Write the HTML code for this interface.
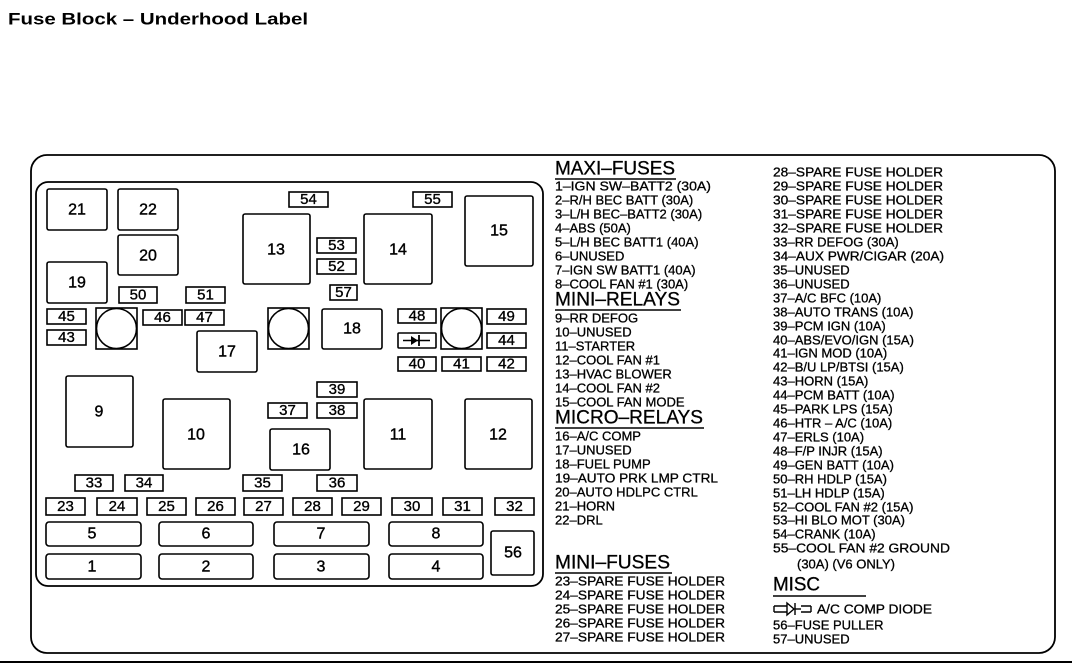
<!DOCTYPE html>
<html><head><meta charset="utf-8"><style>
html,body{margin:0;padding:0;background:#fff;}
svg{display:block;font-family:"Liberation Sans",Arial,sans-serif;}
.b{fill:#fff;stroke:#000;stroke-width:1.6;}
.n{font-size:16px;text-anchor:middle;dominant-baseline:central;stroke:#000;stroke-width:0.4;}
.s{font-size:15px;text-anchor:middle;dominant-baseline:central;stroke:#000;stroke-width:0.35;}
.l{font-size:13px;dominant-baseline:central;stroke:#000;stroke-width:0.3;}
.h{font-size:19px;dominant-baseline:central;stroke:#000;stroke-width:0.3;}
</style></head><body>
<svg width="1072" height="669" viewBox="0 0 1072 669" xmlns="http://www.w3.org/2000/svg">
<text x="8" y="19" font-size="17" font-weight="bold" dominant-baseline="central" textLength="300" lengthAdjust="spacingAndGlyphs">Fuse Block – Underhood Label</text>
<rect x="31" y="155" width="1024" height="498" rx="16" fill="none" stroke="#000" stroke-width="1.8"/>
<rect x="36" y="182" width="507" height="404" rx="12" fill="none" stroke="#000" stroke-width="1.8"/>
<line x1="0" y1="662" x2="1072" y2="662" stroke="#000" stroke-width="2"/>
<g>
<rect class="b" x="47" y="189" width="60" height="41" rx="2"/><text class="n" x="77" y="210">21</text>
<rect class="b" x="118" y="189" width="60" height="41" rx="2"/><text class="n" x="148" y="210">22</text>
<rect class="b" x="118" y="235" width="60" height="40" rx="2"/><text class="n" x="148" y="256">20</text>
<rect class="b" x="47" y="262" width="60" height="41" rx="2"/><text class="n" x="77" y="283">19</text>
<rect class="b" x="243" y="214" width="67" height="70" rx="2"/><text class="n" x="276" y="250">13</text>
<rect class="b" x="364" y="214" width="68" height="70" rx="2"/><text class="n" x="398" y="250">14</text>
<rect class="b" x="465" y="196" width="68" height="70" rx="2"/><text class="n" x="499" y="231">15</text>
<rect class="b" x="197" y="331" width="60" height="41" rx="2"/><text class="n" x="227" y="352">17</text>
<rect class="b" x="322" y="309" width="60" height="40" rx="2"/><text class="n" x="352" y="329">18</text>
<rect class="b" x="66" y="376" width="67" height="71" rx="2"/><text class="n" x="99" y="412">9</text>
<rect class="b" x="163" y="399" width="67" height="70" rx="2"/><text class="n" x="196" y="435">10</text>
<rect class="b" x="270" y="429" width="60" height="41" rx="2"/><text class="n" x="301" y="450">16</text>
<rect class="b" x="364" y="399" width="68" height="70" rx="2"/><text class="n" x="398" y="435">11</text>
<rect class="b" x="465" y="399" width="67" height="70" rx="2"/><text class="n" x="498" y="435">12</text>
<rect class="b" x="491" y="531" width="43" height="44" rx="2"/><text class="n" x="513" y="553">56</text>
<rect class="b" x="46" y="522" width="95" height="24" rx="3"/><text class="n" x="92" y="534">5</text>
<rect class="b" x="159" y="522" width="94" height="24" rx="3"/><text class="n" x="206" y="534">6</text>
<rect class="b" x="274" y="522" width="95" height="24" rx="3"/><text class="n" x="321" y="534">7</text>
<rect class="b" x="389" y="522" width="94" height="24" rx="3"/><text class="n" x="436" y="534">8</text>
<rect class="b" x="46" y="554" width="95" height="25" rx="3"/><text class="n" x="92" y="567">1</text>
<rect class="b" x="159" y="554" width="94" height="25" rx="3"/><text class="n" x="206" y="567">2</text>
<rect class="b" x="274" y="554" width="95" height="25" rx="3"/><text class="n" x="321" y="567">3</text>
<rect class="b" x="389" y="554" width="94" height="25" rx="3"/><text class="n" x="436" y="567">4</text>
<rect class="b" x="96" y="308" width="41" height="41"/><circle cx="116.5" cy="328.5" r="20" fill="#fff" stroke="#000" stroke-width="1.6"/>
<rect class="b" x="268" y="308" width="41" height="41"/><circle cx="288.5" cy="328.5" r="20" fill="#fff" stroke="#000" stroke-width="1.6"/>
<rect class="b" x="441" y="308" width="41" height="41"/><circle cx="461.5" cy="328.5" r="20" fill="#fff" stroke="#000" stroke-width="1.6"/>
<rect class="b" x="398" y="333" width="38" height="15" rx="1"/>
<line x1="403" y1="340.5" x2="430" y2="340.5" stroke="#000" stroke-width="1.5"/>
<polygon points="411,336 418,340.5 411,345" fill="#000"/><line x1="419" y1="335" x2="419" y2="346" stroke="#000" stroke-width="1.8"/>
</g>
<g>
<rect class="b" x="289" y="192" width="39" height="15"/><text class="s" x="308.5" y="199.5">54</text>
<rect class="b" x="413" y="192" width="39" height="15"/><text class="s" x="432.5" y="199.5">55</text>
<rect class="b" x="317" y="238" width="39" height="15"/><text class="s" x="336.5" y="245.5">53</text>
<rect class="b" x="317" y="259" width="39" height="15"/><text class="s" x="336.5" y="266.5">52</text>
<rect class="b" x="330" y="285" width="27" height="15"/><text class="s" x="343.5" y="292.5">57</text>
<rect class="b" x="119" y="287" width="38" height="16"/><text class="s" x="138" y="295">50</text>
<rect class="b" x="186" y="287" width="39" height="16"/><text class="s" x="205.5" y="295">51</text>
<rect class="b" x="47" y="309" width="39" height="15"/><text class="s" x="66.5" y="316.5">45</text>
<rect class="b" x="47" y="330" width="39" height="15"/><text class="s" x="66.5" y="337.5">43</text>
<rect class="b" x="143" y="310" width="39" height="15"/><text class="s" x="162.5" y="317.5">46</text>
<rect class="b" x="185" y="310" width="39" height="15"/><text class="s" x="204.5" y="317.5">47</text>
<rect class="b" x="398" y="309" width="38" height="14"/><text class="s" x="417" y="316">48</text>
<rect class="b" x="487" y="309" width="39" height="15"/><text class="s" x="506.5" y="316.5">49</text>
<rect class="b" x="487" y="333" width="39" height="15"/><text class="s" x="506.5" y="340.5">44</text>
<rect class="b" x="398" y="357" width="38" height="14"/><text class="s" x="417" y="364">40</text>
<rect class="b" x="442" y="357" width="39" height="14"/><text class="s" x="461.5" y="364">41</text>
<rect class="b" x="487" y="357" width="39" height="14"/><text class="s" x="506.5" y="364">42</text>
<rect class="b" x="317" y="382" width="40" height="15"/><text class="s" x="337" y="389.5">39</text>
<rect class="b" x="268" y="403" width="39" height="15"/><text class="s" x="287.5" y="410.5">37</text>
<rect class="b" x="317" y="403" width="40" height="15"/><text class="s" x="337" y="410.5">38</text>
<rect class="b" x="75" y="475" width="38" height="16"/><text class="s" x="94" y="483">33</text>
<rect class="b" x="125" y="475" width="38" height="16"/><text class="s" x="144" y="483">34</text>
<rect class="b" x="243" y="475" width="39" height="16"/><text class="s" x="262.5" y="483">35</text>
<rect class="b" x="317" y="475" width="40" height="16"/><text class="s" x="337" y="483">36</text>
<rect class="b" x="46" y="498" width="39" height="17"/><text class="s" x="65.5" y="506.5">23</text>
<rect class="b" x="97" y="498" width="40" height="17"/><text class="s" x="117" y="506.5">24</text>
<rect class="b" x="147" y="498" width="39" height="17"/><text class="s" x="166.5" y="506.5">25</text>
<rect class="b" x="196" y="498" width="39" height="17"/><text class="s" x="215.5" y="506.5">26</text>
<rect class="b" x="244" y="498" width="39" height="17"/><text class="s" x="263.5" y="506.5">27</text>
<rect class="b" x="293" y="498" width="39" height="17"/><text class="s" x="312.5" y="506.5">28</text>
<rect class="b" x="342" y="498" width="39" height="17"/><text class="s" x="361.5" y="506.5">29</text>
<rect class="b" x="392" y="498" width="40" height="17"/><text class="s" x="412" y="506.5">30</text>
<rect class="b" x="443" y="498" width="39" height="17"/><text class="s" x="462.5" y="506.5">31</text>
<rect class="b" x="495" y="498" width="39" height="17"/><text class="s" x="514.5" y="506.5">32</text>
</g>
<g>
<text class="h" x="555" y="169" textLength="120" lengthAdjust="spacingAndGlyphs">MAXI–FUSES</text><line x1="555" y1="179" x2="676" y2="179" stroke="#000" stroke-width="1.5"/>
<text class="l" x="555" y="186" textLength="156" lengthAdjust="spacingAndGlyphs">1–IGN SW–BATT2 (30A)</text>
<text class="l" x="555" y="200">2–R/H BEC BATT (30A)</text>
<text class="l" x="555" y="214">3–L/H BEC–BATT2 (30A)</text>
<text class="l" x="555" y="228">4–ABS (50A)</text>
<text class="l" x="555" y="242">5–L/H BEC BATT1 (40A)</text>
<text class="l" x="555" y="256">6–UNUSED</text>
<text class="l" x="555" y="270">7–IGN SW BATT1 (40A)</text>
<text class="l" x="555" y="284">8–COOL FAN #1 (30A)</text>
<text class="h" x="555" y="300" textLength="125" lengthAdjust="spacingAndGlyphs">MINI–RELAYS</text><line x1="555" y1="310" x2="681" y2="310" stroke="#000" stroke-width="1.5"/>
<text class="l" x="555" y="318">9–RR DEFOG</text>
<text class="l" x="555" y="332">10–UNUSED</text>
<text class="l" x="555" y="346">11–STARTER</text>
<text class="l" x="555" y="360">12–COOL FAN #1</text>
<text class="l" x="555" y="374">13–HVAC BLOWER</text>
<text class="l" x="555" y="388">14–COOL FAN #2</text>
<text class="l" x="555" y="402">15–COOL FAN MODE</text>
<text class="h" x="555" y="418" textLength="148" lengthAdjust="spacingAndGlyphs">MICRO–RELAYS</text><line x1="555" y1="428" x2="704" y2="428" stroke="#000" stroke-width="1.5"/>
<text class="l" x="555" y="436">16–A/C COMP</text>
<text class="l" x="555" y="450">17–UNUSED</text>
<text class="l" x="555" y="464">18–FUEL PUMP</text>
<text class="l" x="555" y="478" textLength="163" lengthAdjust="spacingAndGlyphs">19–AUTO PRK LMP CTRL</text>
<text class="l" x="555" y="492">20–AUTO HDLPC CTRL</text>
<text class="l" x="555" y="506">21–HORN</text>
<text class="l" x="555" y="520">22–DRL</text>
<text class="h" x="555" y="563" textLength="115" lengthAdjust="spacingAndGlyphs">MINI–FUSES</text><line x1="555" y1="573" x2="672" y2="573" stroke="#000" stroke-width="1.5"/>
<text class="l" x="555" y="581" textLength="170" lengthAdjust="spacingAndGlyphs">23–SPARE FUSE HOLDER</text>
<text class="l" x="555" y="595" textLength="170" lengthAdjust="spacingAndGlyphs">24–SPARE FUSE HOLDER</text>
<text class="l" x="555" y="609" textLength="170" lengthAdjust="spacingAndGlyphs">25–SPARE FUSE HOLDER</text>
<text class="l" x="555" y="623" textLength="170" lengthAdjust="spacingAndGlyphs">26–SPARE FUSE HOLDER</text>
<text class="l" x="555" y="637" textLength="170" lengthAdjust="spacingAndGlyphs">27–SPARE FUSE HOLDER</text>
</g>
<g>
<text class="l" x="773" y="172" textLength="170" lengthAdjust="spacingAndGlyphs">28–SPARE FUSE HOLDER</text>
<text class="l" x="773" y="186" textLength="170" lengthAdjust="spacingAndGlyphs">29–SPARE FUSE HOLDER</text>
<text class="l" x="773" y="200" textLength="170" lengthAdjust="spacingAndGlyphs">30–SPARE FUSE HOLDER</text>
<text class="l" x="773" y="214" textLength="170" lengthAdjust="spacingAndGlyphs">31–SPARE FUSE HOLDER</text>
<text class="l" x="773" y="228" textLength="170" lengthAdjust="spacingAndGlyphs">32–SPARE FUSE HOLDER</text>
<text class="l" x="773" y="242">33–RR DEFOG (30A)</text>
<text class="l" x="773" y="256" textLength="171" lengthAdjust="spacingAndGlyphs">34–AUX PWR/CIGAR (20A)</text>
<text class="l" x="773" y="270">35–UNUSED</text>
<text class="l" x="773" y="284">36–UNUSED</text>
<text class="l" x="773" y="298">37–A/C BFC (10A)</text>
<text class="l" x="773" y="312">38–AUTO TRANS (10A)</text>
<text class="l" x="773" y="326">39–PCM IGN (10A)</text>
<text class="l" x="773" y="340">40–ABS/EVO/IGN (15A)</text>
<text class="l" x="773" y="353">41–IGN MOD (10A)</text>
<text class="l" x="773" y="367">42–B/U LP/BTSI (15A)</text>
<text class="l" x="773" y="381">43–HORN (15A)</text>
<text class="l" x="773" y="395">44–PCM BATT (10A)</text>
<text class="l" x="773" y="409">45–PARK LPS (15A)</text>
<text class="l" x="773" y="423">46–HTR – A/C (10A)</text>
<text class="l" x="773" y="437">47–ERLS (10A)</text>
<text class="l" x="773" y="451">48–F/P INJR (15A)</text>
<text class="l" x="773" y="465">49–GEN BATT (10A)</text>
<text class="l" x="773" y="479">50–RH HDLP (15A)</text>
<text class="l" x="773" y="493">51–LH HDLP (15A)</text>
<text class="l" x="773" y="507">52–COOL FAN #2 (15A)</text>
<text class="l" x="773" y="520">53–HI BLO MOT (30A)</text>
<text class="l" x="773" y="534">54–CRANK (10A)</text>
<text class="l" x="773" y="548" textLength="177" lengthAdjust="spacingAndGlyphs">55–COOL FAN #2 GROUND</text>
<text class="l" x="797" y="564">(30A) (V6 ONLY)</text>
<text class="h" x="773" y="585" textLength="47" lengthAdjust="spacingAndGlyphs">MISC</text><line x1="773" y1="596" x2="866" y2="596" stroke="#000" stroke-width="1.5"/>
<g stroke="#000" stroke-width="1.4" fill="#fff">
<path d="M774,606 H787 M774,612 H787 M774,606 V612 M801,606 H811 M801,612 H811 M811,606 V612"/>
<polygon points="787,603 794,609 787,615"/><line x1="795" y1="603" x2="795" y2="615"/><line x1="795" y1="609" x2="801" y2="609"/>
</g>
<text class="l" x="817" y="609" textLength="115" lengthAdjust="spacingAndGlyphs">A/C COMP DIODE</text>
<text class="l" x="773" y="625">56–FUSE PULLER</text>
<text class="l" x="773" y="639">57–UNUSED</text>
</g>
</svg>
</body></html>
